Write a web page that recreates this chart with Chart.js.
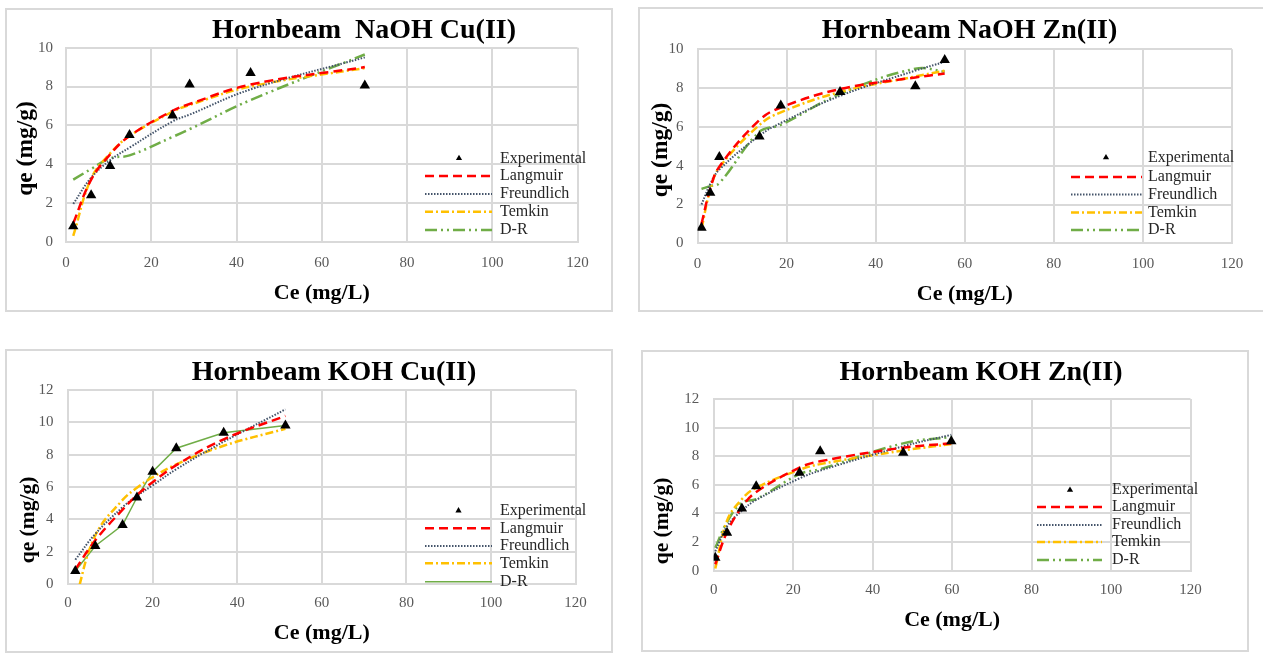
<!DOCTYPE html>
<html>
<head>
<meta charset="utf-8">
<script src="https://cdn.jsdelivr.net/npm/chart.js@4.4.1/dist/chart.umd.min.js"></script>
<style>
  html, body { margin: 0; padding: 0; background: #fff; width: 1263px; height: 653px; overflow: hidden; }
  .panel { position: absolute; box-sizing: border-box; border: 2px solid #D9D9D9; background: #fff; overflow: hidden; }
  .panel canvas { position: absolute; left: 0; top: 0; }
</style>
</head>
<body>
<div class="panel" style="left:5px;top:8px;width:608px;height:304px"><canvas id="c1" width="604" height="300"></canvas></div>
<div class="panel" style="left:638px;top:7px;width:630px;height:305px"><canvas id="c2" width="626" height="301"></canvas></div>
<div class="panel" style="left:5px;top:349px;width:608px;height:304px"><canvas id="c3" width="604" height="300"></canvas></div>
<div class="panel" style="left:641px;top:350px;width:608px;height:302px"><canvas id="c4" width="604" height="298"></canvas></div>
<script>
// ---- Labels ----
const chartTitles = ['Hornbeam  NaOH Cu(II)', 'Hornbeam NaOH Zn(II)', 'Hornbeam KOH Cu(II)', 'Hornbeam KOH Zn(II)'];
const seriesNames = ['Experimental', 'Langmuir', 'Freundlich', 'Temkin', 'D-R'];
const xAxisTitle = 'Ce (mg/L)';
const yAxisTitle = 'qe (mg/g)';
const xTicks = { min: 0, max: 120, step: 20 };
const yMaxima = [10, 10, 12, 12];

// ---- NaOH, Cu(II) ----
const naohCuCe           = [1.7, 5.9, 10.35, 14.9, 25.0, 29.0, 43.3, 70.1];
const naohCuExperimental = [0.8, 2.4, 3.9, 5.5, 6.5, 8.1, 8.7, 8.05];
const naohCuLangmuir     = [0.95, 3.2, 4.5, 5.45, 6.75, 7.1, 8.1, 9.0];
const naohCuFreundlich   = [1.95, 3.3, 4.2, 4.85, 6.2, 6.55, 7.85, 9.5];
const naohCuTemkin       = [0.3, 3.25, 4.55, 5.45, 6.7, 7.05, 8.0, 8.95];
const naohCuDR           = [3.2, 3.75, 4.3, 4.45, 5.4, 5.8, 7.3, 9.65];

// ---- NaOH, Zn(II) ----
const naohZnCe           = [0.9, 2.85, 4.9, 13.9, 18.7, 32.0, 48.9, 55.5];
const naohZnExperimental = [0.8, 2.6, 4.45, 5.5, 7.1, 7.8, 8.1, 9.45];
const naohZnLangmuir     = [1.0, 2.8, 3.95, 6.35, 7.0, 7.95, 8.55, 8.75];
const naohZnFreundlich   = [2.0, 3.05, 3.8, 5.55, 6.2, 7.6, 8.9, 9.35];
const naohZnTemkin       = [0.75, 2.75, 3.9, 6.1, 6.75, 7.8, 8.6, 8.9];
const naohZnDR           = [2.8, 2.95, 3.1, 5.75, 6.1, 7.7, 9.0, 8.85];

// ---- KOH, Cu(II) ----
const kohCuCe            = [1.73, 6.45, 12.9, 16.3, 20.0, 25.6, 36.8, 51.4];
const kohCuExperimental  = [0.8, 2.35, 3.65, 5.35, 6.95, 8.4, 9.35, 9.8];
const kohCuLangmuir      = [0.9, 2.7, 4.6, 5.5, 6.3, 7.35, 8.95, 10.4];
const kohCuFreundlich    = [1.5, 3.1, 4.75, 5.45, 6.1, 7.1, 8.8, 10.8];
const kohCuTemkin        = [-1.0, 3.0, 5.2, 5.95, 6.6, 7.4, 8.55, 9.6];
const kohCuDR            = [0.8, 2.35, 3.65, 5.35, 6.95, 8.4, 9.35, 9.8];

// ---- KOH, Zn(II) ----
const kohZnCe            = [0.4, 3.35, 7.1, 10.7, 21.6, 26.8, 47.7, 59.8];
const kohZnExperimental  = [0.9, 2.65, 4.35, 5.9, 6.85, 8.35, 8.25, 9.05];
const kohZnLangmuir      = [0.45, 2.7, 4.45, 5.5, 7.2, 7.65, 8.6, 8.9];
const kohZnFreundlich    = [1.35, 3.1, 4.2, 4.95, 6.45, 7.0, 8.7, 9.5];
const kohZnTemkin        = [0.15, 3.5, 5.0, 5.8, 7.05, 7.45, 8.4, 8.85];
const kohZnDR            = [1.6, 3.4, 4.75, 5.0, 6.75, 7.1, 8.9, 9.35];

// ---- Styles ----
const SERIF = '"Liberation Serif", "Times New Roman", serif';
const GRID = '#D9D9D9';
const modelStyles = {
  'Langmuir':   { borderColor: '#FF0000', borderDash: [9, 5], borderWidth: 2.5, tension: 0.4 },
  'Freundlich': { borderColor: '#44546A', borderDash: [1.5, 1.5], borderWidth: 2, tension: 0.4 },
  'Temkin':     { borderColor: '#FFC000', borderDash: [8, 3, 2, 3], borderWidth: 2.5, tension: 0.4 },
  'D-R':        { borderColor: '#70AD47', borderDash: [12, 4, 2, 4, 2, 4], borderWidth: 2.5, tension: 0.4 }
};
// thin straight-segment D-R line used in the KOH Cu(II) panel
const solidDR = { borderColor: '#70AD47', borderDash: [], borderWidth: 1.5, tension: 0 };

Chart.defaults.font.family = SERIF;

function points(ce, values) {
  return ce.map((x, i) => ({ x: x, y: values[i] }));
}

// Title, axis titles and the in-plot legend
const panelText = {
  id: 'panelText',
  afterDraw(chart, args, o) {
    const ctx = chart.ctx;
    const area = chart.chartArea;
    ctx.save();
    ctx.fillStyle = '#000';
    ctx.textAlign = 'center';
    ctx.textBaseline = 'alphabetic';
    ctx.font = 'bold 28px ' + SERIF;
    ctx.fillText(o.title, o.titleX, o.titleBaseline);
    ctx.font = 'bold 22px ' + SERIF;
    ctx.fillText(xAxisTitle, (area.left + area.right) / 2, o.xTitleBaseline);
    ctx.translate(o.yTitleX, o.yTitleY);
    ctx.rotate(-Math.PI / 2);
    ctx.textBaseline = 'middle';
    ctx.font = 'bold ' + o.yTitleSize + 'px ' + SERIF;
    ctx.fillText(yAxisTitle, 0, 0);
    ctx.restore();

    const lg = o.legend;
    chart.data.datasets.forEach((ds, i) => {
      const y = lg.rows[i];
      ctx.save();
      if (ds.showLine) {
        ctx.strokeStyle = ds.borderColor;
        ctx.lineWidth = ds.borderWidth;
        ctx.setLineDash(ds.borderDash || []);
        ctx.lineCap = 'butt';
        ctx.beginPath();
        ctx.moveTo(lg.x0, y);
        ctx.lineTo(lg.x1, y);
        ctx.stroke();
      } else {
        ctx.fillStyle = ds.backgroundColor;
        Chart.helpers.drawPoint(ctx, { pointStyle: 'triangle', radius: 3.6, rotation: 0, borderWidth: 0 }, lg.marker, y);
      }
      ctx.fillStyle = '#262626';
      ctx.font = '16px ' + SERIF;
      ctx.textAlign = 'left';
      ctx.textBaseline = 'middle';
      ctx.fillText(ds.label, lg.textX, y);
      ctx.restore();
    });
  }
};

function makeChart(id, cfg) {
  const canvas = document.getElementById(id);
  const W = canvas.width, H = canvas.height;
  const yW = 40, xH = 40;
  const a = cfg.area;
  const datasets = [{
    label: seriesNames[0],
    data: points(cfg.ce, cfg.experimental),
    showLine: false,
    pointStyle: 'triangle',
    pointRadius: 6,
    pointHoverRadius: 6,
    backgroundColor: '#000',
    borderColor: '#000',
    borderWidth: 0
  }];
  cfg.models.forEach((vals, k) => {
    const name = seriesNames[k + 1];
    const style = (name === 'D-R' && cfg.solidDR) ? solidDR : modelStyles[name];
    datasets.push(Object.assign({
      label: name,
      data: points(cfg.ce, vals),
      showLine: true,
      pointRadius: 0,
      pointHoverRadius: 0,
      fill: false,
      borderCapStyle: 'butt'
    }, style));
  });

  const tickFont = { family: SERIF, size: 15 };
  return new Chart(canvas, {
    type: 'scatter',
    data: { datasets: datasets },
    options: {
      responsive: false,
      animation: false,
      devicePixelRatio: 1,
      events: [],
      layout: { padding: { left: a.left - yW, right: W - a.right, top: a.top, bottom: H - a.bottom - xH } },
      scales: {
        x: {
          type: 'linear', min: xTicks.min, max: xTicks.max,
          ticks: { stepSize: xTicks.step, padding: cfg.xTickPad, font: tickFont, color: '#595959', maxRotation: 0, autoSkip: false },
          grid: { color: GRID, lineWidth: 2, drawTicks: false },
          border: { color: GRID, width: 2 },
          afterFit(s) { s.height = xH; }
        },
        y: {
          type: 'linear', min: 0, max: cfg.yMax,
          ticks: { stepSize: 2, padding: cfg.yTickPad, font: tickFont, color: '#595959' },
          grid: { color: GRID, lineWidth: 2, drawTicks: false },
          border: { color: GRID, width: 2 },
          afterFit(s) { s.width = yW; }
        }
      },
      plugins: {
        legend: { display: false },
        tooltip: { enabled: false },
        panelText: cfg.text
      }
    },
    plugins: [panelText]
  });
}

makeChart('c1', {
  ce: naohCuCe, experimental: naohCuExperimental,
  models: [naohCuLangmuir, naohCuFreundlich, naohCuTemkin, naohCuDR],
  yMax: yMaxima[0],
  area: { left: 59, right: 570.5, top: 37.7, bottom: 231.7 },
  xTickPad: 12, yTickPad: 13,
  text: {
    title: chartTitles[0], titleX: 357, titleBaseline: 28,
    xTitleBaseline: 288.5, yTitleX: 19, yTitleY: 138.5, yTitleSize: 23.5,
    legend: { x0: 418, x1: 485, marker: 452, textX: 493, rows: [148.3, 166, 184, 201.7, 220] }
  }
});

makeChart('c2', {
  ce: naohZnCe, experimental: naohZnExperimental,
  models: [naohZnLangmuir, naohZnFreundlich, naohZnTemkin, naohZnDR],
  yMax: yMaxima[1],
  area: { left: 57.5, right: 592, top: 40.3, bottom: 234.3 },
  xTickPad: 11.5, yTickPad: 14,
  text: {
    title: chartTitles[1], titleX: 329.5, titleBaseline: 28.5,
    xTitleBaseline: 291, yTitleX: 21, yTitleY: 141, yTitleSize: 23.5,
    legend: { x0: 431, x1: 502, marker: 466, textX: 508, rows: [148.5, 168, 185.6, 203.5, 221] }
  }
});

makeChart('c3', {
  ce: kohCuCe, experimental: kohCuExperimental,
  models: [kohCuLangmuir, kohCuFreundlich, kohCuTemkin, kohCuDR],
  solidDR: true,
  yMax: yMaxima[2],
  area: { left: 61, right: 568.6, top: 39, bottom: 233 },
  xTickPad: 10, yTickPad: 14.5,
  text: {
    title: chartTitles[2], titleX: 327, titleBaseline: 29,
    xTitleBaseline: 288, yTitleX: 21, yTitleY: 169, yTitleSize: 21.5,
    legend: { x0: 418, x1: 485, marker: 451.5, textX: 493, rows: [159.7, 177.3, 195, 212.3, 230.7] }
  }
});

makeChart('c4', {
  ce: kohZnCe, experimental: kohZnExperimental,
  models: [kohZnLangmuir, kohZnFreundlich, kohZnTemkin, kohZnDR],
  yMax: yMaxima[3],
  area: { left: 70.7, right: 547.5, top: 47, bottom: 218.7 },
  xTickPad: 10.5, yTickPad: 14.5,
  text: {
    title: chartTitles[3], titleX: 338, titleBaseline: 28,
    xTitleBaseline: 274, yTitleX: 19, yTitleY: 169, yTitleSize: 21.5,
    legend: { x0: 394, x1: 459, marker: 427, textX: 469, rows: [138, 155, 173, 190, 208] }
  }
});
</script>
</body>
</html>
